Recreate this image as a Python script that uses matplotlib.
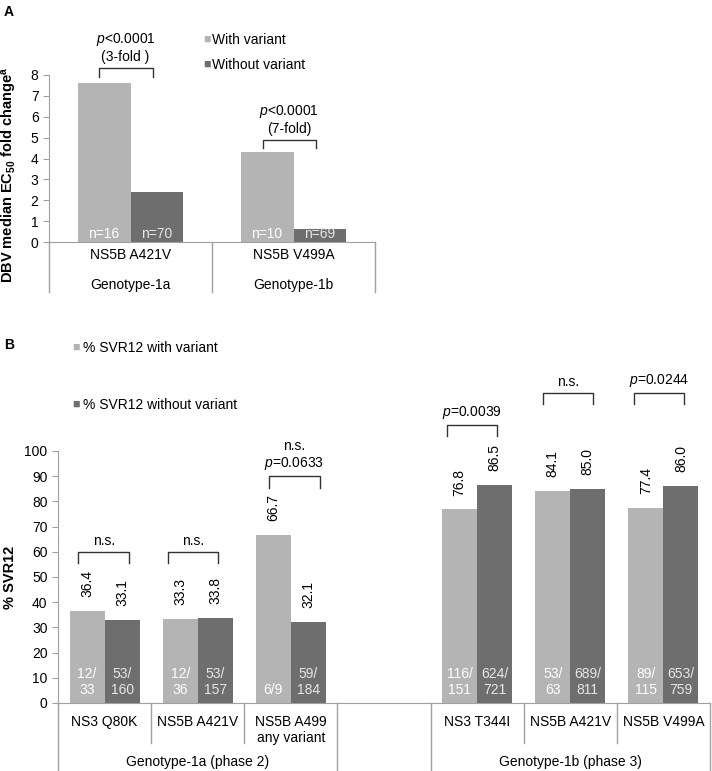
import numpy as np
import matplotlib.pyplot as plt

plt.rcParams['font.family'] = ['Liberation Sans', 'DejaVu Sans']
plt.rcParams['mathtext.fontset'] = 'custom'
plt.rcParams['mathtext.rm'] = 'Liberation Sans'
plt.rcParams['mathtext.it'] = 'Liberation Sans:italic'
plt.rcParams['mathtext.bf'] = 'Liberation Sans:bold'

LIGHT = '#b4b4b4'
DARK = '#6e6e6e'
AXC = '#a0a0a0'

# panel A data
a_cats = ['NS5B A421V', 'NS5B V499A']
a_groups = ['Genotype-1a', 'Genotype-1b']
a_with = [7.6, 4.3]
a_without = [2.4, 0.6]
a_n_with = ['n=16', 'n=10']
a_n_without = ['n=70', 'n=69']
a_ptext = ['$p$<0.0001\n(3-fold )', '$p$<0.0001\n(7-fold)']

# panel B data
b_cats = ['NS3 Q80K', 'NS5B A421V', 'NS5B A499\nany variant', '',
          'NS3 T344I', 'NS5B A421V', 'NS5B V499A']
b_with = [36.4, 33.3, 66.7, np.nan, 76.8, 84.1, 77.4]
b_without = [33.1, 33.8, 32.1, np.nan, 86.5, 85.0, 86.0]
b_n_with = ['12/\n33', '12/\n36', '6/9', '', '116/\n151', '53/\n63', '89/\n115']
b_n_without = ['53/\n160', '53/\n157', '59/\n184', '', '624/\n721', '689/\n811', '653/\n759']
b_ptext = ['n.s.', 'n.s.', 'n.s.\n$p$=0.0633', '', '$p$=0.0039', 'n.s.', '$p$=0.0244']
b_groups = ['Genotype-1a (phase 2)', 'Genotype-1b (phase 3)']

W, H = 712, 771
fig = plt.figure(figsize=(W / 100, H / 100), dpi=100)


def px_axes(l, t, r, b):
    return fig.add_axes([l / W, 1 - b / H, (r - l) / W, (b - t) / H])


def ftext(x, y, s, **kw):
    fig.text(x / W, 1 - y / H, s, **kw)


def style(ax):
    for s in ['top', 'right']:
        ax.spines[s].set_visible(False)
    for s in ['left', 'bottom']:
        ax.spines[s].set_color(AXC)
    ax.tick_params(axis='y', colors=AXC, labelcolor='black', labelsize=10, length=4)
    ax.set_xticks([])


def bracket(ax, x0, x1, ytop, ybot, txt, ytxt):
    ax.plot([x0, x0, x1, x1], [ybot, ytop, ytop, ybot], color='#333333', lw=1, clip_on=False)
    ax.text((x0 + x1) / 2, ytxt, txt, ha='center', va='bottom', fontsize=10,
            linespacing=1.1, clip_on=False)


def vline(ax, x, y0px, y1px, hpx):
    ax.plot([x, x], [-y0px / hpx, -y1px / hpx], color=AXC, lw=1,
            transform=ax.get_xaxis_transform(), clip_on=False)


# ---------- panel A ----------
axA = px_axes(49, 75, 375, 242)
hA = 242 - 75
x = np.arange(len(a_cats))
bw = 0.325
axA.bar(x - bw / 2, a_with, bw, color=LIGHT)
axA.bar(x + bw / 2, a_without, bw, color=DARK)
axA.set_xlim(-0.5, 1.5)
axA.set_ylim(0, 8)
axA.set_yticks(range(9))
style(axA)
for i in range(len(a_cats)):
    axA.text(x[i] - bw / 2, 0.05, a_n_with[i], ha='center', va='bottom', color='white', fontsize=10)
    axA.text(x[i] + bw / 2, 0.05, a_n_without[i], ha='center', va='bottom', color='#e6e6e6', fontsize=10)
    axA.text(x[i], -13 / hA, a_cats[i], ha='center', va='center', fontsize=10,
             transform=axA.get_xaxis_transform())
    axA.text(x[i], -43 / hA, a_groups[i], ha='center', va='center', fontsize=10,
             transform=axA.get_xaxis_transform())
for xs in [-0.5, 0.5, 1.5]:
    vline(axA, xs, 0, 50, hA)
bracket(axA, x[0] - 0.195, x[0] + 0.135, 8.33, 7.9, a_ptext[0], 8.55)
bracket(axA, x[1] - 0.19, x[1] + 0.135, 4.88, 4.5, a_ptext[1], 5.1)

ftext(10, 175, r'DBV median EC$_{\mathbf{50}}$ fold change$^{\mathbf{a}}$', fontsize=10.5,
      fontweight='bold', rotation=90, ha='center', va='center')
ftext(203, 40, '\u25a0', color=LIGHT, fontsize=9, va='center')
ftext(212, 40, 'With variant', fontsize=10, va='center')
ftext(203, 65, '\u25a0', color=DARK, fontsize=9, va='center')
ftext(212, 65, 'Without variant', fontsize=10, va='center')
ftext(4, 12, 'A', fontsize=10, fontweight='bold', va='center')

# ---------- panel B ----------
axB = px_axes(58, 451, 710, 703)
hB = 703 - 451
xb = np.arange(len(b_cats))
bw = 0.376
axB.bar(xb - bw / 2, b_with, bw, color=LIGHT)
axB.bar(xb + bw / 2, b_without, bw, color=DARK)
axB.set_xlim(-0.5, len(b_cats) - 0.5)
axB.set_ylim(0, 100)
axB.set_yticks(range(0, 101, 10))
style(axB)
for i in range(len(b_cats)):
    if b_cats[i] == '':
        continue
    for xx, v, n, c in [(xb[i] - bw / 2, b_with[i], b_n_with[i], 'white'),
                        (xb[i] + bw / 2, b_without[i], b_n_without[i], '#e6e6e6')]:
        axB.annotate('%.1f' % v, (xx, v), xytext=(0, 10), textcoords='offset points',
                     rotation=90, ha='center', va='bottom', fontsize=10)
        axB.annotate(n, (xx, 0), xytext=(0, 4), textcoords='offset points',
                     ha='center', va='bottom', fontsize=10, color=c, linespacing=1.25)
    axB.text(xb[i], -12 / hB, b_cats[i], ha='center', va='top', fontsize=10,
             linespacing=1.15, transform=axB.get_xaxis_transform())
for xs in [-0.5, 2.5, 3.5, 6.5]:
    vline(axB, xs, 0, 68, hB)
for xs in [0.5, 1.5, 4.5, 5.5]:
    vline(axB, xs, 0, 40, hB)
axB.text(1, -59 / hB, b_groups[0], ha='center', va='center', fontsize=10,
         transform=axB.get_xaxis_transform())
axB.text(5, -59 / hB, b_groups[1], ha='center', va='center', fontsize=10,
         transform=axB.get_xaxis_transform())

br_top = [59.9, 59.9, 90.0, np.nan, 110.3, 123.0, 123.0]
br_shift = [-0.01, -0.054, 0.038, np.nan, -0.054, -0.027, -0.048]
for i in range(len(b_cats)):
    if b_ptext[i] == '':
        continue
    t = br_top[i]
    c = xb[i] + br_shift[i]
    bracket(axB, c - 0.27, c + 0.27, t, t - 4.5, b_ptext[i], t + 1.8)

ftext(10, 577, '% SVR12', fontsize=10.5, fontweight='bold', rotation=90, ha='center', va='center')
ftext(72, 348, '\u25a0', color=LIGHT, fontsize=9, va='center')
ftext(83, 348, '% SVR12 with variant', fontsize=10, va='center')
ftext(72, 405, '\u25a0', color=DARK, fontsize=9, va='center')
ftext(83, 405, '% SVR12 without variant', fontsize=10, va='center')
ftext(4, 345, 'B', fontsize=10, fontweight='bold', va='center')

fig.savefig('out.png', dpi=100)
